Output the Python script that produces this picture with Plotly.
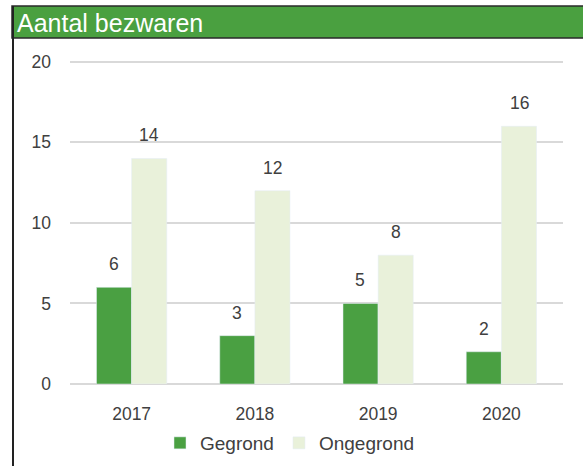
import plotly.graph_objects as go

years = ["2017", "2018", "2019", "2020"]
gegrond = [6, 3, 5, 2]
ongegrond = [14, 12, 8, 16]

W, H = 583, 466
L, R, T, B = 70, 20, 57, 82
pw, ph = W - L - R, H - T - B

def px(x):
    return (x - L) / pw

def py(y):
    return (H - B - y) / ph

font = "Liberation Sans, Arial, sans-serif"
txt = "#404040"
fs = 17.5
bw_px = 35.3  # half-group offset in pixels

fig = go.Figure()
fig.add_bar(name="Gegrond", x=years, y=gegrond, marker_color="#4aa042")
fig.add_bar(name="Ongegrond", x=years, y=ongegrond, marker_color="#e9f1da")

annotations = [dict(text="Aantal bezwaren", xref="paper", yref="paper", x=px(15), y=py(23),
                    xanchor="left", yanchor="middle", showarrow=False,
                    font=dict(size=25, color="white", family=font))]
for series, shift in ((gegrond, -bw_px / 2), (ongegrond, bw_px / 2)):
    for i, v in enumerate(series):
        annotations.append(dict(text=str(v), xref="x", yref="y", x=i, y=v, xshift=shift,
                                yshift=11, xanchor="center", yanchor="bottom", showarrow=False,
                                font=dict(size=fs, color=txt, family=font)))

shapes = [
    dict(type="rect", xref="paper", yref="paper", x0=px(12), x1=px(586), y0=py(38), y1=py(6),
         fillcolor="#4aa040", line=dict(color="#2a2a2a", width=1.5), layer="below"),
    dict(type="line", xref="paper", yref="paper", x0=px(13), x1=px(13), y0=py(6), y1=py(470),
         line=dict(color="#222222", width=2)),
]
fig.update_layout(
    width=W, height=H,
    margin=dict(l=L, r=R, t=T, b=B, autoexpand=False),
    paper_bgcolor="white", plot_bgcolor="white",
    barmode="group", bargap=0.43, bargroupgap=0.0,
    font=dict(family=font, color=txt, size=fs),
    showlegend=True,
    legend=dict(orientation="h", x=px(160), xanchor="left", y=py(443), yanchor="middle",
                font=dict(size=19, color=txt), itemwidth=30, traceorder="normal",
                bgcolor="rgba(0,0,0,0)"),
    xaxis=dict(type="category", showgrid=False, showline=False, ticks="", automargin=False,
               tickfont=dict(size=fs, color=txt), ticklabelstandoff=17),
    yaxis=dict(range=[0, 20.3], tickvals=[0, 5, 10, 15, 20], showgrid=True,
               gridcolor="#d9d9d9", gridwidth=1.5, automargin=False,
               zeroline=True, zerolinecolor="#d9d9d9", zerolinewidth=1.5,
               tickfont=dict(size=fs, color=txt), ticklabelstandoff=18),
    shapes=shapes,
    annotations=annotations,
)
fig.write_html("out.html", config={"displayModeBar": False},
               post_script="document.body.style.margin='0';")
